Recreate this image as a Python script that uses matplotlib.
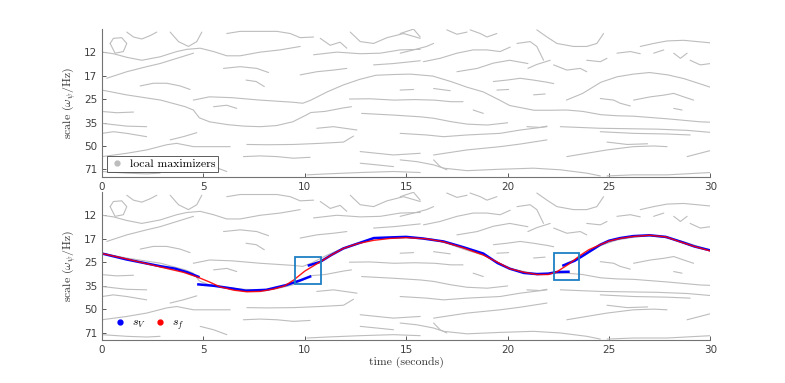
import numpy as np
import matplotlib
matplotlib.use("Agg")
import matplotlib.pyplot as plt
from matplotlib.lines import Line2D
from matplotlib.patches import Rectangle

plt.rcParams['mathtext.fontset'] = 'cm'

# ---- data -------------------------------------------------------------
xticks = [0, 5, 10, 15, 20, 25, 30]
ytick_vals = [12.5, 17.68, 25, 35.36, 50, 70.71]
ytick_labels = ['12', '17', '25', '35', '50', '71']

# ridges of local maximizers: (time, scale)
ridges = [
    ([0, 1.2, 2.9, 4.1, 4.5, 4.8, 5.3, 6.2, 7.0, 7.8, 8.6, 9.4, 10.0, 10.3, 11.0, 11.9, 12.3],
     [21.9, 23.5, 25.4, 28.0, 29.4, 33.0, 35.0, 36.5, 37.3, 37.6, 37.0, 35.0, 32.0, 30.5, 30.0, 28.5, 28.0]),
    ([4.5, 5.3, 6.4, 7.8, 9.4, 9.9, 10.3, 11.1, 11.9, 12.7, 13.5, 14.4, 15.2, 16.3, 17.2, 18.0, 18.8,
      19.6, 20.1, 21.3, 22.1, 22.9, 23.7, 24.6, 25.4, 26.2, 27.9, 29.5, 30.0],
     [25.4, 24.2, 24.5, 25.4, 26.2, 26.6, 25.4, 22.5, 20.3, 18.7, 17.6, 17.4, 17.3, 17.8, 19.3, 21.0, 22.5,
      25.4, 27.5, 29.5, 29.5, 29.4, 30.0, 31.5, 32.0, 32.2, 33.5, 35.0, 35.2]),
    ([22.9, 23.7, 24.6, 25.4, 26.2, 27.0, 27.9, 28.7, 29.5, 30.0],
     [25.4, 23.0, 19.5, 18.0, 17.3, 16.9, 17.5, 18.5, 20.0, 21.0]),
    ([0.4, 0.56, 0.97, 1.22, 1.05, 0.64, 0.4], [11.0, 10.2, 10.1, 11.0, 12.4, 12.7, 11.0]),
    ([0, 0.56, 1.22, 1.96, 2.86, 3.68, 4.18, 4.84, 5.5, 6.15, 6.81, 7.8, 8.78, 9.77],
     [12.5, 12.8, 13.5, 14.1, 13.4, 12.4, 12.0, 11.8, 12.4, 13.2, 13.2, 12.5, 12.1, 11.5]),
    ([0.23, 1.22, 2.2, 2.86, 3.85, 4.51], [18.4, 16.7, 15.5, 14.8, 13.5, 12.7]),
    ([1.22, 1.55, 1.96, 2.37, 2.7], [9.3, 10.0, 10.3, 9.8, 9.3]),
    ([3.36, 3.77, 4.26, 4.67, 4.92], [9.3, 10.7, 11.5, 10.7, 9.3]),
    ([6.15, 6.81, 7.8, 8.62, 9.28, 9.77, 10.43], [9.5, 9.2, 9.2, 9.2, 9.5, 10.1, 10.0]),
    ([10.76, 11.25, 11.74, 12.07], [10.2, 11.3, 10.8, 11.8]),
    ([12.24, 12.73, 13.39, 14.05, 14.87, 15.69], [9.3, 10.7, 11.0, 10.1, 9.5, 10.2]),
    ([10.43, 11.58, 12.73, 13.72, 14.7, 15.69], [13.0, 12.5, 12.8, 12.7, 12.1, 12.0]),
    ([5.99, 6.81, 7.63, 8.21], [15.9, 15.5, 15.9, 16.9]),
    ([9.77, 10.59, 11.41, 12.07], [17.5, 16.7, 16.3, 15.9]),
    ([13.39, 14.37, 15.69], [15.1, 14.8, 14.2]),
    ([1.88, 2.53, 3.19, 3.85, 4.34], [20.6, 19.8, 19.8, 20.6, 21.7]),
    ([7.1, 7.6, 8.0], [18.9, 19.3, 20.8]),
    ([12.2, 13.2, 14.4, 15.4, 16.4, 17.2, 17.8], [25.0, 24.9, 25.4, 25.2, 25.4, 26.0, 26.0]),
    ([5.5, 6.15, 6.64], [28.0, 27.4, 28.7]),
    ([0.07, 0.73, 1.55], [30.1, 30.6, 30.3]),
    ([0, 1.22, 2.2], [35.8, 37.3, 37.6]),
    ([10.59, 11.41, 12.57], [38.5, 37.6, 39.5]),
    ([12.8, 14.4, 15.7, 16.35, 17.2, 18.0, 19.0, 20.0], [30.9, 31.7, 32.5, 33.2, 34.9, 36.2, 36.7, 35.5]),
    ([0, 0.56, 1.22, 2.2], [41.5, 40.5, 41.5, 43.6]),
    ([3.36, 4.0, 4.67], [45.7, 43.6, 41.1]),
    ([7.14, 8.13, 9.44, 10.76, 11.91, 12.4], [48.9, 49.1, 48.9, 48.1, 47.2, 43.2]),
    ([0, 1.22, 2.2, 3.19, 3.68, 4.51, 5.33, 6.32], [58.5, 55.7, 53.0, 49.1, 48.1, 50.5, 50.5, 50.5]),
    ([6.97, 7.8, 8.62, 9.44, 10.26], [58.5, 57.9, 58.5, 59.9, 59.1]),
    ([12.73, 13.55, 14.37, 15.69], [54.3, 55.7, 57.1, 55.7]),
    ([0, 1.22, 2.2, 2.86], [72.9, 74.7, 75.5, 74.7]),
    ([4.84, 5.5, 6.15], [64.5, 67.8, 72.9]),
    ([10.1, 11.08, 12.73, 14.37, 15.69], [76.6, 75.5, 74.0, 72.9, 74.0]),
    ([12.73, 13.55, 14.37], [64.5, 66.1, 67.8]),
    ([14.7, 15.36, 15.69], [9.5, 8.9, 10.0]),
    ([17.0, 17.5, 18.0], [9.0, 9.6, 9.3]),
    ([18.15, 18.65, 18.98, 19.47], [9.0, 9.5, 10.0, 9.5]),
    ([21.44, 21.94, 22.43, 23.25, 23.9, 24.4, 24.73], [9.0, 10.0, 11.0, 11.5, 11.5, 11.0, 9.5]),
    ([26.54, 27.2, 27.86, 28.68, 30.0], [11.5, 11.0, 10.6, 10.5, 10.9]),
    ([14.7, 15.36, 16.0, 16.35], [12.7, 12.1, 11.5, 11.0]),
    ([15.85, 16.67, 17.5, 18.3, 18.98, 19.63, 20.13], [14.4, 13.7, 12.7, 12.1, 12.1, 12.4, 11.6]),
    ([20.46, 21.11, 21.44, 21.77], [11.0, 10.7, 11.5, 14.1]),
    ([23.9, 24.57, 24.9], [14.1, 14.4, 13.7]),
    ([25.39, 26.05, 26.54], [12.7, 12.4, 12.8]),
    ([27.2, 27.7], [12.7, 12.1]),
    ([28.19, 28.52, 28.85], [12.7, 13.7, 12.7]),
    ([29.0, 29.5, 30.0], [14.1, 15.1, 14.8]),
    ([17.5, 18.5, 19.3, 20.1, 21.0], [16.7, 15.9, 14.7, 14.1, 14.8]),
    ([21.0, 21.44, 22.1], [15.9, 15.0, 14.1]),
    ([22.27, 22.92, 23.58, 23.9], [15.1, 16.3, 15.9, 16.7]),
    ([19.3, 19.96, 20.62, 21.28, 21.94, 22.27], [19.3, 18.9, 18.4, 18.9, 19.5, 19.9]),
    ([14.7, 15.36], [21.9, 21.7]),
    ([16.35, 17.17], [21.4, 22.1]),
    ([19.47, 20.05], [21.9, 21.7]),
    ([21.28, 21.85], [23.5, 23.2]),
    ([24.57, 25.23, 25.55, 26.05], [24.8, 25.4, 26.6, 27.7]),
    ([26.21, 27.04, 27.7, 28.19, 28.68, 29.17], [25.4, 24.2, 23.6, 23.0, 24.2, 25.4]),
    ([18.3, 18.8], [29.4, 30.9]),
    ([28.19, 28.6], [28.7, 29.4]),
    ([22.6, 24.57, 27.37, 28.85, 30.0], [37.6, 38.5, 39.0, 39.7, 40.9]),
    ([20.95, 21.6, 21.94], [37.6, 38.0, 37.3]),
    ([14.7, 16.0, 16.84, 18.0, 19.63, 20.62, 21.94], [41.5, 42.5, 43.6, 42.5, 41.5, 39.5, 37.6]),
    ([24.57, 26.21, 27.86, 29.0], [40.5, 41.5, 41.9, 42.5]),
    ([16.35, 18.0, 19.63, 20.62, 21.94], [57.1, 53.0, 50.5, 48.6, 45.7]),
    ([22.92, 23.9, 24.9, 26.2, 27.2, 27.86], [58.5, 55.7, 53.0, 50.5, 50.0, 50.5]),
    ([24.9, 25.9, 26.9], [47.2, 48.9, 48.4]),
    ([28.85, 30.0], [58.5, 53.5]),
    ([14.7, 15.52, 16.35, 16.84, 18.0, 19.63, 21.28, 22.6, 23.9, 24.57],
     [61.4, 63.0, 66.1, 69.4, 72.0, 70.5, 69.4, 71.1, 74.7, 77.8]),
    ([24.9, 26.21, 27.86, 30.0], [77.8, 76.6, 76.6, 74.0]),
    ([16.35, 16.67, 17.0], [61.4, 67.8, 71.1]),
]

# s_f : smooth estimate
sf_t = [0, 1.2, 2.86, 4.0, 4.67, 5.3, 5.82, 6.5, 7.14, 7.8, 8.45, 9.0, 9.44, 10.0, 10.75, 11.3, 11.9,
        12.6, 13.4, 14.2, 15.0, 16.0, 16.84, 17.8, 18.8, 19.5, 20.1, 20.8, 21.45, 22.0, 22.43, 23.0,
        23.6, 24.0, 24.57, 25.0, 25.55, 26.2, 27.0, 27.8, 28.5, 29.2, 30]
sf_s = [22.0, 23.8, 26.8, 29.0, 31.0, 33.5, 36.0, 37.8, 38.7, 38.5, 37.2, 35.5, 32.6, 28.5, 24.9, 22.5,
        20.4, 19.0, 18.1, 17.6, 17.4, 17.7, 18.5, 20.2, 22.5, 25.0, 27.5, 29.0, 30.0, 30.0, 28.8, 25.8,
        22.5, 20.8, 19.3, 18.3, 17.6, 17.1, 16.8, 17.2, 18.5, 19.8, 21.2]

# s_V : ridge-following estimate, in pieces
sv_segments = [
    ([0, 1.2, 2.86, 3.6, 4.2, 4.75], [22.0, 24.0, 26.5, 27.5, 29.0, 31.0]),
    ([4.75, 5.5, 6.5, 7.1, 8.1, 9.1, 9.8, 10.26], [34.7, 35.4, 37.0, 38.1, 37.6, 35.0, 32.6, 30.9]),
    ([10.2, 10.75, 11.3, 11.9, 12.6, 13.4, 14.4, 15.0, 15.8, 16.84, 17.8, 18.8, 19.5, 20.1, 20.8,
      21.45, 22.0, 22.43, 23.0],
     [26.2, 24.9, 22.5, 20.4, 19.0, 17.5, 17.3, 17.2, 17.6, 18.4, 20.0, 22.0, 25.3, 27.5, 29.3,
      29.8, 29.6, 28.9, 28.8]),
    ([22.75, 23.3, 23.6, 24.0, 24.57, 25.0, 25.55, 26.2, 27.0, 27.8, 28.5, 29.2, 30],
     [26.2, 24.5, 23.2, 21.5, 19.3, 18.2, 17.5, 17.0, 16.8, 17.2, 18.4, 19.8, 21.0]),
]

# highlighted regions (t0, t1, scale_top, scale_bottom)
boxes = [(9.5, 10.8, 23.3, 34.7), (22.27, 23.53, 21.8, 32.6)]

# ---- plot -------------------------------------------------------------
gray = '#bdbdbd'
serif = 'cmr10'

fig = plt.figure(figsize=(7.85, 3.83), dpi=100)
ax1 = fig.add_axes([0.130, 0.538, 0.775, 0.386])
ax2 = fig.add_axes([0.130, 0.112, 0.775, 0.386])

for ax in (ax1, ax2):
    for t, s in ridges:
        ax.plot(t, s, color=gray, lw=0.8, solid_capstyle='round')
    ax.set_yscale('log')
    ax.set_ylim(79, 8.9)
    ax.set_xlim(0, 30)
    ax.set_yticks(ytick_vals)
    ax.set_yticklabels(ytick_labels)
    ax.minorticks_off()
    ax.set_xticks(xticks)
    ax.tick_params(direction='in', length=3, labelsize=7.5, colors='0.25', width=0.6)
    for side in ('top', 'right'):
        ax.spines[side].set_visible(False)
    for side in ('left', 'bottom'):
        ax.spines[side].set_color('0.45')
        ax.spines[side].set_linewidth(0.8)
    ax.set_ylabel(r'scale ($\omega_\psi$/Hz)', fontfamily=serif, fontsize=8.5, color='0.2')

h = Line2D([], [], marker='o', ls='none', color=gray, ms=3.5)
leg = ax1.legend([h], ['local maximizers'], loc='lower left', bbox_to_anchor=(0.008, 0.035),
                 borderaxespad=0, fancybox=False, edgecolor='0.2', handlelength=1.2,
                 handletextpad=0.5, borderpad=0.25, prop={'family': serif, 'size': 8.5})
leg.get_frame().set_linewidth(0.7)

for t, s in sv_segments:
    ax2.plot(t, s, color='#0000ff', lw=1.8)
ax2.plot(sf_t, sf_s, color='#ff0000', lw=1.0, alpha=0.9)

for t0, t1, s0, s1 in boxes:
    ax2.add_patch(Rectangle((t0, s0), t1 - t0, s1 - s0, fill=False, edgecolor='#1f7fc4', lw=1.3, zorder=5))

hb = Line2D([], [], marker='o', ls='none', color='#0000ff', ms=3.5)
hr = Line2D([], [], marker='o', ls='none', color='#ff0000', ms=3.5)
ax2.legend([hb, hr], [r'$s_V$', r'$s_f$'], ncol=2, loc='lower left', bbox_to_anchor=(0.01, 0.02),
           borderaxespad=0, frameon=False, handlelength=1.2, handletextpad=0.4, columnspacing=0.6,
           prop={'size': 8.5})
ax2.set_xlabel('time (seconds)', fontfamily=serif, fontsize=8.5, color='0.2', labelpad=1)

fig.savefig('out.png', dpi=100)
